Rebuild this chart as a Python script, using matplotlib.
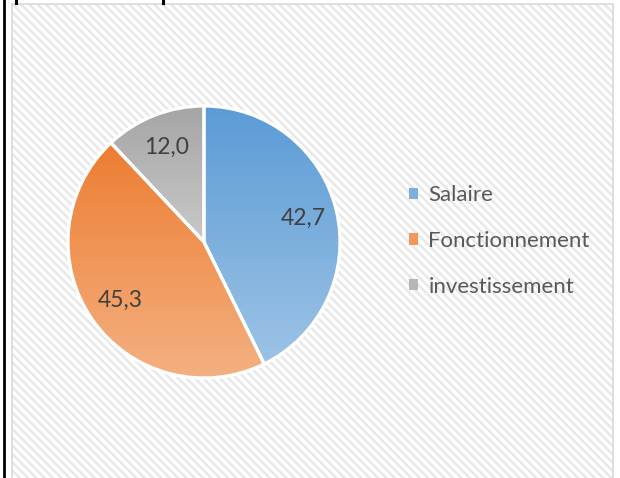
import numpy as np
import matplotlib.pyplot as plt
from matplotlib.patches import Rectangle, Patch
from matplotlib.lines import Line2D
from matplotlib.colors import to_rgb

categories = ["Salaire", "Fonctionnement", "investissement"]
values = [42.7, 45.3, 12.0]
labels = ["42,7", "45,3", "12,0"]
# couleur haut / bas du dégradé de chaque part
top_colors = ["#5B9BD5", "#ED7D31", "#A5A5A5"]
bottom_colors = ["#9DC3E6", "#F4B183", "#C9C9C9"]

plt.rcParams['font.family'] = ['Lato', 'DejaVu Sans']
plt.rcParams['hatch.linewidth'] = 1.8

W, H = 620, 478
fig = plt.figure(figsize=(W / 100, H / 100), dpi=100)
fig.patch.set_facecolor("white")

# fond hachuré de la zone graphique
fond = Rectangle((12 / W, 0), 601 / W, 1 - 4 / H, transform=fig.transFigure,
                 facecolor="white", edgecolor="#E8E8E8", hatch="\\\\\\\\",
                 linewidth=0, zorder=-2)
fig.patches.append(fond)
cadre = Rectangle((12 / W, -0.01), 601 / W, 1 - 4 / H + 0.01, transform=fig.transFigure,
                  fill=False, edgecolor="#D9D9D9", linewidth=1.2, zorder=-1)
fig.patches.append(cadre)

# bord noir du tableau à gauche + restes du titre coupé
fig.lines.append(Line2D([4 / W, 4 / W], [0, 1], transform=fig.transFigure,
                        color="black", linewidth=2))
for x in (15.5, 162.5):
    fig.lines.append(Line2D([x / W, x / W], [1, 1 - 3 / H], transform=fig.transFigure,
                            color="black", linewidth=2.2))

cx, cy, r = 204, 242, 136
ax = fig.add_axes([(cx - r) / W, (H - cy - r) / H, 2 * r / W, 2 * r / H])
ax.set_zorder(1)
wedges, _ = ax.pie(values, startangle=90, counterclock=False, radius=1,
                   wedgeprops=dict(facecolor="none", edgecolor="white",
                                   linewidth=2.3, zorder=3))

for w, c1, c2, lab in zip(wedges, top_colors, bottom_colors, labels):
    v = w.get_path().vertices
    x0, x1 = v[:, 0].min(), v[:, 0].max()
    y0, y1 = v[:, 1].min(), v[:, 1].max()
    t = np.linspace(0, 1, 256)[:, None]
    grad = (1 - t) * np.array(to_rgb(c1)) + t * np.array(to_rgb(c2))
    im = ax.imshow(grad[:, None, :], extent=[x0, x1, y0, y1], origin="upper",
                   aspect="auto", zorder=2, interpolation="bilinear")
    im.set_clip_path(w)
    ang = np.deg2rad((w.theta1 + w.theta2) / 2)
    ax.text(0.75 * np.cos(ang), 0.75 * np.sin(ang), lab, ha="center", va="center",
            fontsize=16.5, color="#404040", zorder=4)

ax.set_xlim(-1.0, 1.0)
ax.set_ylim(-1.0, 1.0)
ax.set_aspect("auto")
ax.axis("off")

handles = [Patch(facecolor=(np.array(to_rgb(a)) + np.array(to_rgb(b))) / 2, edgecolor="none")
           for a, b in zip(top_colors, bottom_colors)]
fig.legend(handles, categories, loc="center left",
           bbox_to_anchor=(409 / W, 1 - 241 / H), frameon=False,
           fontsize=16, labelcolor="#595959", handlelength=0.42, handleheight=0.42,
           handletextpad=0.45, labelspacing=1.15, borderpad=0, borderaxespad=0)

fig.savefig("out.png", dpi=100)
